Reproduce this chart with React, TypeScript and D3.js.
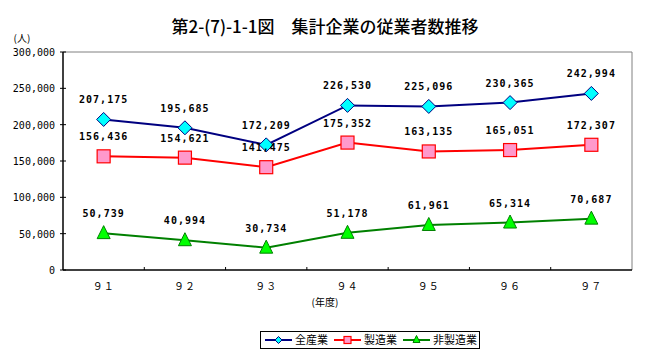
import React from "react";
import * as d3 from "d3";

const years = ["９１", "９２", "９３", "９４", "９５", "９６", "９７"];
const allIndustry = [207175, 195685, 172209, 226530, 225096, 230365, 242994];
const manufacturing = [156436, 154621, 141475, 175352, 163135, 165051, 172307];
const nonManufacturing = [50739, 40994, 30734, 51178, 61961, 65314, 70687];
const yTicks = [0, 50000, 100000, 150000, 200000, 250000, 300000];

const series = [
  { name: "全産業", values: allIndustry, line: "#000080", fill: "#00FFFF", stroke: "#000080", shape: "diamond" },
  { name: "製造業", values: manufacturing, line: "#FF0000", fill: "#FF99CC", stroke: "#FF0000", shape: "square" },
  { name: "非製造業", values: nonManufacturing, line: "#008000", fill: "#00FF00", stroke: "#008000", shape: "triangle" },
];

const W = 650;
const H = 361;
const margin = { top: 52, right: 18, bottom: 91, left: 63 };
const font = "'Noto Sans CJK JP', 'DejaVu Sans', sans-serif";
const mono = "'DejaVu Sans Mono', monospace";

const marker = (shape: string, x: number, y: number, s: number, fill: string, stroke: string) => {
  if (shape === "diamond") {
    const p = `M${x},${y - s} L${x + s},${y} L${x},${y + s} L${x - s},${y} Z`;
    return <path d={p} fill={fill} stroke={stroke} strokeWidth={1} />;
  }
  if (shape === "square") {
    return <rect x={x - s} y={y - s} width={s * 2} height={s * 2} fill={fill} stroke={stroke} strokeWidth={1.2} />;
  }
  const p = `M${x},${y - s - 1} L${x + s},${y + s - 1} L${x - s},${y + s - 1} Z`;
  return <path d={p} fill={fill} stroke={stroke} strokeWidth={1} />;
};

export default function App() {
  const x = d3.scaleBand().domain(years).range([margin.left, W - margin.right]);
  const y = d3.scaleLinear().domain([0, 300000]).range([H - margin.bottom, margin.top]);
  const cx = (i: number) => (x(years[i]) as number) + x.bandwidth() / 2;
  const fmt = d3.format(",");
  const line = d3.line<number>().x((_, i) => cx(i)).y(d => y(d));
  const x0 = margin.left;
  const x1 = W - margin.right;
  const y0 = H - margin.bottom;
  const y1 = margin.top;

  const sizes: Record<string, number> = { diamond: 7, square: 6.5, triangle: 6.5 };

  return (
    <svg width={W} height={H} style={{ position: "absolute", left: 0, top: 0, background: "#fff" }}>
      <text x={325} y={33} textAnchor="middle" fontFamily={font} fontSize={17} fontWeight={500} fill="#000">
        第2-(7)-1-1図　集計企業の従業者数推移
      </text>
      <text x={22} y={42} textAnchor="middle" fontFamily={font} fontSize={10} fill="#000">(人)</text>

      {/* frame */}
      <line x1={x0} x2={x1} y1={y1} y2={y1} stroke="#808080" />
      <line x1={x1} x2={x1} y1={y1} y2={y0} stroke="#808080" />
      <line x1={x0} x2={x0} y1={y1} y2={y0} stroke="#000" strokeWidth={1.5} />
      <line x1={x0} x2={x1} y1={y0} y2={y0} stroke="#000" strokeWidth={1.5} />

      {yTicks.map(t => (
        <g key={t}>
          <line x1={x0 - 3} x2={x0 + 3} y1={y(t)} y2={y(t)} stroke="#000" />
          <text x={55} y={y(t) + 4} textAnchor="end" fontFamily={mono} fontSize={10} fill="#000">
            {fmt(t)}
          </text>
        </g>
      ))}

      {years.slice(1).map(yr => (
        <line key={yr} x1={x(yr)} x2={x(yr)} y1={y0 - 3} y2={y0} stroke="#000" />
      ))}
      {years.map((yr, i) => (
        <text key={yr} x={cx(i)} y={290} textAnchor="middle" fontFamily={font} fontSize={10} letterSpacing={1} fill="#000">
          {yr}
        </text>
      ))}
      <text x={325} y={306} textAnchor="middle" fontFamily={font} fontSize={10} fill="#000">(年度)</text>

      {series.map(s => (
        <g key={s.name}>
          <path d={line(s.values) || ""} fill="none" stroke={s.line} strokeWidth={2} />
          {s.values.map((v, i) => (
            <g key={i}>{marker(s.shape, cx(i), y(v), sizes[s.shape], s.fill, s.stroke)}</g>
          ))}
          {s.values.map((v, i) => (
            <text key={"l" + i} x={cx(i)} y={y(v) - 16} textAnchor="middle" fontFamily={mono}
              fontSize={10} fontWeight="bold" letterSpacing={1} fill="#000">
              {fmt(v)}
            </text>
          ))}
        </g>
      ))}

      {/* legend */}
      <rect x={260.5} y={331.5} width={219} height={17} fill="#fff" stroke="#000" />
      {series.map((s, i) => {
        const lx = [265, 334, 403][i];
        const ly = 340;
        return (
          <g key={s.name}>
            <line x1={lx} x2={lx + 27} y1={ly} y2={ly} stroke={s.line} strokeWidth={2} />
            {marker(s.shape, lx + 13.5, ly, 3.5, s.fill, s.stroke)}
            <text x={lx + 30} y={ly + 4} fontFamily={font} fontSize={11} fill="#000">{s.name}</text>
          </g>
        );
      })}
    </svg>
  );
}
